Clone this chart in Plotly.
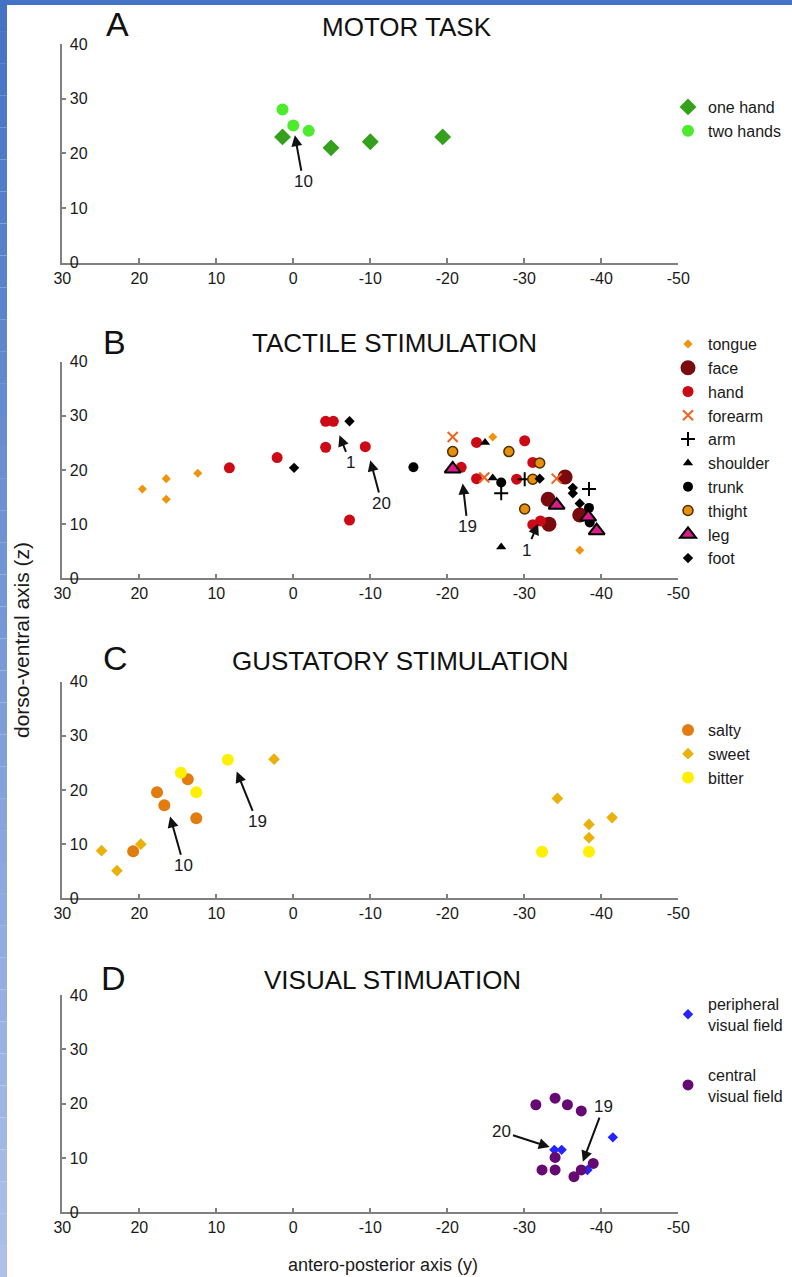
import plotly.graph_objects as go

W, H = 792, 1277
FONT = "Liberation Sans, Arial, sans-serif"

# ---------------- DATA ----------------
x_ticks = [30, 20, 10, 0, -10, -20, -30, -40, -50]
x_tick_labels = ["30", "20", "10", "0", "-10", "-20", "-30", "-40", "-50"]
z_ticks = [0, 10, 20, 30, 40]

# A - motor task
one_hand_y = [1.4, -4.9, -10.0, -19.4]
one_hand_z = [23.0, 21.0, 22.1, 23.0]
two_hands_y = [1.4, 0.0, -2.0]
two_hands_z = [28.0, 25.1, 24.1]

# B - tactile stimulation
tongue_y = [19.6, 16.5, 16.5, 12.4, -25.9, -37.2]
tongue_z = [16.5, 18.4, 14.6, 19.4, 26.1, 5.2]
face_y = [-33.2, -33.1, -35.3, -37.2]
face_z = [10.0, 14.6, 18.7, 11.7]
hand_y = [8.3, 2.1, -4.2, -4.2, -5.2, -9.35, -7.3, -21.8, -23.8, -23.8, -30.05, -29.0, -31.1, -31.1, -32.1]
hand_z = [20.4, 22.3, 24.2, 29.0, 29.0, 24.3, 10.75, 20.5, 25.1, 18.4, 25.4, 18.3, 21.4, 9.9, 10.6]
forearm_y = [-20.7, -24.8, -34.2]
forearm_z = [26.1, 18.6, 18.4]
arm_y = [-27.0, -30.05, -38.4]
arm_z = [15.7, 18.3, 16.5]
shoulder_y = [-24.9, -25.9, -27.0]
shoulder_z = [25.1, 18.5, 5.8]
trunk_y = [-15.6, -27.0, -38.4, -38.5]
trunk_z = [20.5, 17.7, 13.0, 10.3]
thight_y = [-20.7, -28.0, -32.0, -31.1, -30.05]
thight_z = [23.4, 23.4, 21.3, 18.3, 12.8]
leg_y = [-20.7, -34.2, -38.3, -39.4]
leg_z = [20.2, 13.5, 11.3, 8.8]
foot_y = [-0.1, -7.3, -32.0, -36.3, -36.3, -37.2]
foot_z = [20.4, 29.0, 18.4, 16.7, 15.7, 13.8]

# C - gustatory stimulation
salty_y = [20.8, 17.7, 16.75, 13.7, 12.6]
salty_z = [8.7, 19.6, 17.2, 22.0, 14.8]
sweet_y = [24.9, 22.9, 19.8, 2.5, -34.3, -38.4, -38.4, -41.4]
sweet_z = [8.8, 5.1, 10.0, 25.7, 18.45, 13.65, 11.2, 14.9]
bitter_y = [14.6, 12.6, 8.5, -32.3, -38.4]
bitter_z = [23.2, 19.6, 25.6, 8.6, 8.6]

# D - visual stimulation
peripheral_y = [-33.9, -34.85, -38.2, -41.5]
peripheral_z = [11.5, 11.5, 7.8, 13.8]
central_y = [-31.5, -34.0, -35.6, -37.4, -34.0, -32.3, -34.0, -36.45, -37.4, -38.95]
central_z = [19.8, 21.0, 19.8, 18.65, 10.1, 7.8, 7.8, 6.55, 7.8, 9.0]

# arrow labels: (panel, text, label_y, label_z, tip_y, tip_z)
arrow_labels = [
    (1, "10", -1.3, 14.8, -0.2, 23.3),
    (2, "1", -7.4, 21.3, -6.0, 26.4),
    (2, "20", -11.5, 13.8, -10.0, 21.8),
    (2, "19", -22.65, 9.5, -22.0, 17.5),
    (2, "1", -30.3, 5.2, -31.8, 10.1),
    (3, "10", 14.2, 6.0, 16.0, 15.1),
    (3, "19", 4.7, 14.1, 7.35, 23.4),
    (4, "20", -27.1, 14.85, -33.3, 12.0),
    (4, "19", -40.3, 19.45, -37.6, 9.3),
]

panel_letters = ["A", "B", "C", "D"]
panel_titles = ["MOTOR TASK", "TACTILE STIMULATION", "GUSTATORY STIMULATION", "VISUAL STIMUATION"]

# ---------------- LAYOUT HELPERS ----------------
def pxx(x):
    return x / W

def pxy(y):
    return 1 - y / H

x_dom = [pxx(62.3), pxx(678.3)]
# (top pixel for z=40, bottom pixel for z=0)
panel_px = [(43.9, 262.7), (361.7, 578.3), (681.7, 898.3), (995.0, 1212.3)]
title_px_y = [27, 343, 661, 980]
title_px_x = [407, 394, 401, 392]
letter_px = [(117, 24), (114, 342), (115, 658), (113, 978)]
legend_top = [90, 327, 713, 987]
legend_gap = [0, 0, 0, 26]

fig = go.Figure()

def sc(panel, xs, ys, name, symbol, size, color, line_color=None, line_width=0):
    ax = "" if panel == 1 else str(panel)
    fig.add_trace(go.Scatter(
        x=xs, y=ys, mode="markers", name=name,
        xaxis="x" + ax, yaxis="y" + ax,
        legend="legend" + ax, legendgroup=name,
        marker=dict(symbol=symbol, size=size, color=color,
                    line=dict(color=line_color if line_color else color, width=line_width)),
        hoverinfo="skip",
    ))

# A
sc(1, one_hand_y, one_hand_z, "one hand", "diamond", 13, "#35A01C")
sc(1, two_hands_y, two_hands_z, "two hands", "circle", 12, "#4DEB2C")

# B
sc(2, tongue_y, tongue_z, "tongue", "diamond", 7, "#F0940E")
sc(2, face_y, face_z, "face", "circle", 15, "#7A0A0E")
sc(2, hand_y, hand_z, "hand", "circle", 11, "#CC0A16")
sc(2, forearm_y, forearm_z, "forearm", "x-thin", 10, "#F0641E", line_width=2)
sc(2, arm_y, arm_z, "arm", "cross-thin", 10, "#000000", line_width=2)
sc(2, shoulder_y, shoulder_z, "shoulder", "triangle-up", 9, "#000000")
sc(2, trunk_y, trunk_z, "trunk", "circle", 10, "#000000")
sc(2, thight_y, thight_z, "thight", "circle", 10, "#E8900C", line_color="#4A3000", line_width=1.5)
sc(2, leg_y, leg_z, "leg", "triangle-up", 14, "#D81C88", line_color="#000000", line_width=2)
sc(2, foot_y, foot_z, "foot", "diamond", 8, "#000000")

# C
sc(3, salty_y, salty_z, "salty", "circle", 12, "#E27C0E")
sc(3, sweet_y, sweet_z, "sweet", "diamond", 9, "#EAB10C")
sc(3, bitter_y, bitter_z, "bitter", "circle", 12, "#FFF000")

# D
sc(4, peripheral_y, peripheral_z, "peripheral<br>visual field", "diamond", 8, "#2424FF")
sc(4, central_y, central_z, "central<br>visual field", "circle", 11, "#650A72")

axis_line = "#808080"
layout = dict(
    width=W, height=H, autosize=False,
    margin=dict(l=0, r=0, t=0, b=0, pad=0, autoexpand=False),
    paper_bgcolor="white", plot_bgcolor="rgba(0,0,0,0)",
    font=dict(family=FONT, color="#1a1a1a"),
    annotations=[], shapes=[],
)

for i in range(4):
    ax = "" if i == 0 else str(i + 1)
    top, bot = panel_px[i]
    layout["xaxis" + ax] = dict(
        domain=x_dom, anchor="y" + ax, range=[30, -50],
        tickmode="array", tickvals=x_ticks, ticktext=x_tick_labels,
        showline=True, linecolor=axis_line, linewidth=1.5,
        ticks="inside", ticklen=5, tickwidth=1.5, tickcolor=axis_line,
        showgrid=False, zeroline=False, ticklabelstandoff=0,
        tickfont=dict(family=FONT, size=16, color="#1a1a1a"),
    )
    layout["yaxis" + ax] = dict(
        domain=[pxy(bot), pxy(top)], anchor="x" + ax, range=[0, 40], tickvals=z_ticks,
        showline=True, linecolor=axis_line, linewidth=1.5,
        ticks="inside", ticklen=4, tickwidth=1.5, tickcolor=axis_line,
        ticklabelposition="inside", ticklabeloverflow="allow", ticklabelstandoff=4,
        showgrid=False, zeroline=False,
        tickfont=dict(family=FONT, size=16, color="#1a1a1a"),
    )
    layout["legend" + ax] = dict(
        x=pxx(668), y=pxy(legend_top[i]), xanchor="left", yanchor="top",
        bgcolor="rgba(0,0,0,0)", borderwidth=0,
        font=dict(family=FONT, size=16, color="#1a1a1a"),
        tracegroupgap=legend_gap[i],
    )
    layout["annotations"].append(dict(
        x=pxx(title_px_x[i]), y=pxy(title_px_y[i]), xref="paper", yref="paper",
        text=panel_titles[i], showarrow=False, xanchor="center", yanchor="middle",
        font=dict(family=FONT, size=26, color="#111111"),
    ))
    layout["annotations"].append(dict(
        x=pxx(letter_px[i][0]), y=pxy(letter_px[i][1]), xref="paper", yref="paper",
        text=panel_letters[i], showarrow=False, xanchor="center", yanchor="middle",
        font=dict(family=FONT, size=34, color="#111111"),
    ))

for panel, txt, ly, lz, ty, tz in arrow_labels:
    ax = "" if panel == 1 else str(panel)
    layout["annotations"].append(dict(
        x=ty, y=tz, xref="x" + ax, yref="y" + ax,
        ax=ly, ay=lz, axref="x" + ax, ayref="y" + ax,
        text=txt, showarrow=True, arrowhead=2, arrowsize=1.1, arrowwidth=2,
        arrowcolor="#111111", standoff=0, startstandoff=0,
        font=dict(family=FONT, size=17, color="#1a1a1a"),
    ))

layout["annotations"].append(dict(
    x=pxx(383), y=pxy(1265), xref="paper", yref="paper",
    xanchor="center", yanchor="middle",
    text="antero-posterior axis (y)", showarrow=False,
    font=dict(family=FONT, size=18, color="#1a1a1a"),
))
layout["annotations"].append(dict(
    x=pxx(21), y=pxy(640), xref="paper", yref="paper",
    xanchor="center", yanchor="middle",
    text="dorso-ventral axis (z)", showarrow=False, textangle=-90,
    font=dict(family=FONT, size=21, color="#1a1a1a"),
))

# blue frame: top bar + left gradient bar
layout["shapes"].append(dict(type="rect", xref="paper", yref="paper",
                             x0=0, x1=1, y0=pxy(5), y1=1, fillcolor="#4472C4",
                             line=dict(width=0), layer="above"))
n = 40
c0 = (68, 114, 196)
c1 = (172, 192, 232)
for k in range(n):
    t = k / (n - 1)
    col = "rgb(%d,%d,%d)" % tuple(round(c0[j] + (c1[j] - c0[j]) * t) for j in range(3))
    layout["shapes"].append(dict(type="rect", xref="paper", yref="paper",
                                 x0=0, x1=pxx(7), y0=1 - (k + 1) / n, y1=1 - k / n,
                                 fillcolor=col, line=dict(width=0), layer="above"))

fig.update_layout(**layout)
fig.write_html(
    "out.html",
    config={"displayModeBar": False},
    post_script="document.body.style.margin='0';document.body.style.padding='0';"
                "document.body.style.overflow='hidden';",
)
